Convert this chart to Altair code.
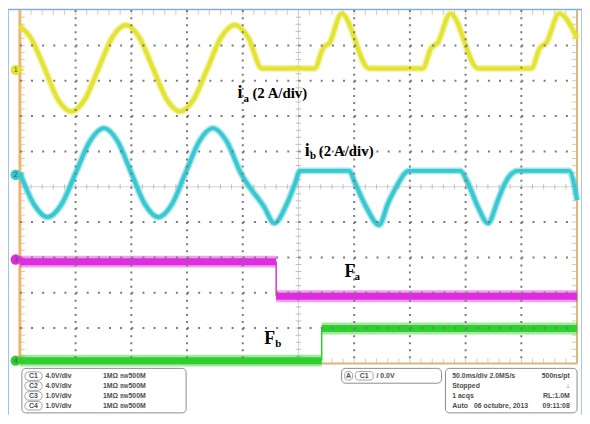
import altair as alt
import pandas as pd
import numpy as np

# ---- screen units: 10 time divisions (50 ms/div) x 10 vertical divisions ----
# channel 1 (ia, yellow)
ia_t = [0.0, 0.20, 0.444, 0.68, 0.924, 1.168, 1.412, 1.656, 1.901, 2.145,
        2.389, 2.633, 2.877, 3.121, 3.366, 3.610, 3.854, 4.10, 4.343,
        5.293, 5.44, 5.56, 5.773, 6.270, 7.229, 7.38, 7.50, 7.726, 8.224,
        9.183, 9.33, 9.45, 9.680, 10.0]
ia_v = [9.55, 9.20, 8.35, 7.48, 7.13, 7.48, 8.35, 9.22, 9.58, 9.22,
        8.35, 7.48, 7.13, 7.48, 8.35, 9.22, 9.58, 9.22, 8.35,
        8.35, 8.92, 9.08, 9.90, 8.35, 8.35, 8.92, 9.08, 9.90, 8.35,
        8.35, 8.92, 9.08, 9.90, 9.20]
# channel 2 (ib, cyan)
ib_t = [0.0, 0.25, 0.497, 0.75, 1.004, 1.257, 1.510, 1.754, 1.998, 2.242,
        2.487, 2.731, 2.975, 3.22, 3.464, 3.71, 3.961, 4.387,
        4.565, 4.796, 4.938, 5.027, 5.915, 6.004, 6.217, 6.448, 6.607, 6.767,
        6.980, 7.904, 8.028, 8.224, 8.401, 8.579, 8.703, 8.934, 9.858, 10.0]
ib_v = [5.40, 4.51, 4.14, 4.51, 5.40, 6.29, 6.66, 6.29, 5.40, 4.51,
        4.14, 4.51, 5.40, 6.29, 6.66, 6.29, 5.40, 4.42,
        3.97, 4.53, 5.09, 5.45, 5.45, 5.15, 4.42, 3.92, 4.53, 5.03,
        5.45, 5.45, 5.15, 4.42, 3.97, 4.62, 5.09, 5.45, 5.45, 4.62]
# channel 3 (Fa, magenta) and channel 4 (Fb, green): levels and switching instants
fa_t = [0.0, 4.600, 10.0]
fa_v = [2.88, 1.90]
fb_t = [0.0, 5.417, 10.0]
fb_v = [0.08, 0.99]

# channel ground markers
mk_ch = ["1", "2", "3", "4"]
mk_y = [8.31, 5.34, 2.94, 0.08]
colors = ["#e3e332", "#38c8d2", "#dc2edc", "#2ecf2e"]

# annotation labels
lab_main = ["i", "i", "F", "F"]
lab_sub = ["a", "b", "a", "b"]
lab_rest = ["(2 A/div)", "(2 A/div)", "", ""]
lab_x = [3.908, 5.115, 5.826, 4.387]
lab_y = [7.50, 5.87, 2.46, 0.56]
lab_sub_dx = [0.105, 0.090, 0.180, 0.195]
lab_rest_dx = [0.265, 0.250, 0.0, 0.0]

# status panel
box_x = [0.036, 5.773, 7.638]
box_x2 = [2.984, 7.567, 10.0]
box_y = [-0.14, -0.14, -0.14]
box_y2 = [-1.40, -0.56, -1.40]
row_y = [-0.36, -0.64, -0.92, -1.20]
ch_names = ["C1", "C2", "C3", "C4"]
ch_scale = ["4.0V/div", "4.0V/div", "1.0V/div", "1.0V/div"]
ch_imp = ["1MΩ", "1MΩ", "1MΩ", "1MΩ"]
ch_bw = ["500M", "500M", "500M", "500M"]
acq_left = ["50.0ms/div 2.0MS/s", "Stopped", "1 acqs", "Auto"]
acq_right = ["500ns/pt", "↓", "RL:1.0M", "09:11:08"]
acq_date = "06 octubre, 2013"
trig_text = "/ 0.0V"

# ------------------------------------------------------------------
xs = alt.Scale(domain=[0, 10], nice=False, zero=False)
ys = alt.Scale(domain=[0, 10], nice=False, zero=False)
X = lambda f="x": alt.X(f"{f}:Q", scale=xs, axis=None)
Y = lambda f="y": alt.Y(f"{f}:Q", scale=ys, axis=None)


def rules(df, **mk):
    enc = dict(x=X("x"), y=Y("y"))
    if "x2" in df:
        enc["x2"] = alt.X2("x2:Q")
    if "y2" in df:
        enc["y2"] = alt.Y2("y2:Q")
    return alt.Chart(df).mark_rule(**mk).encode(**enc)


def texts(df, **mk):
    return alt.Chart(df).mark_text(**mk).encode(x=X("x"), y=Y("y"), text="t:N")


layers = []

# outer window frame (blue)
frame = pd.DataFrame({"x": [-0.213, -0.213, 10.09], "x2": [-0.213, 10.09, 10.09],
                      "y": [10.02, 10.02, 10.02], "y2": [-1.45, 10.02, -1.45]})
layers.append(rules(frame, color="#7fb2e2", strokeWidth=1.5))

# graticule: center lines and minor ticks
steps = np.round(np.arange(0.2, 10.0, 0.2), 2)
layers.append(rules(pd.DataFrame({"x": [0, 5], "x2": [10, 5], "y": [5, 0], "y2": [5, 10]}),
                    color="#d4d4d4", strokeWidth=1))
layers.append(rules(pd.DataFrame({"x": steps, "y": 4.93, "y2": 5.07}), color="#bdbdbd", strokeWidth=1))
layers.append(rules(pd.DataFrame({"y": steps, "x": 4.95, "x2": 5.05}), color="#bdbdbd", strokeWidth=1))
# edge ticks
layers.append(rules(pd.DataFrame({"x": steps, "y": 9.86, "y2": 10}), color="#e0c79e", strokeWidth=1))
layers.append(rules(pd.DataFrame({"x": steps, "y": 0, "y2": 0.14}), color="#e0c79e", strokeWidth=1))
layers.append(rules(pd.DataFrame({"y": steps, "x": 0, "x2": 0.09}), color="#e0c79e", strokeWidth=1))
layers.append(rules(pd.DataFrame({"y": steps, "x": 9.91, "x2": 10}), color="#e0c79e", strokeWidth=1))
# plot edges
layers.append(rules(pd.DataFrame({"x": [0, 10], "x2": [10, 10], "y": [0, 0], "y2": [0, 10]}),
                    color="#d8b77e", strokeWidth=2))
layers.append(rules(pd.DataFrame({"x": [0], "y": [0], "y2": [10]}), color="#efb56e", strokeWidth=3))

# traces: Fa and Fb (noisy thick bands)
for t, v, c in [(fa_t, fa_v, colors[2]), (fb_t, fb_v, colors[3])]:
    seg = pd.DataFrame({"x": t[:-1], "x2": t[1:], "y": v})
    layers.append(rules(seg, color=c, strokeWidth=12, opacity=0.45))
    layers.append(rules(seg, color=c, strokeWidth=7))
    layers.append(rules(pd.DataFrame({"x": [t[1]], "y": [v[0]], "y2": [v[1]]}), color=c, strokeWidth=1.5))

# traces: ia and ib
for t, v, c in [(ia_t, ia_v, colors[0]), (ib_t, ib_v, colors[1])]:
    df = pd.DataFrame({"x": t, "y": v})
    layers.append(alt.Chart(df).mark_line(interpolate="monotone", color=c, strokeWidth=7,
                                          opacity=0.45).encode(x=X(), y=Y()))
    layers.append(alt.Chart(df).mark_line(interpolate="monotone", color=c, strokeWidth=4).encode(x=X(), y=Y()))

# dotted grid
grid_lines = [1, 2, 3, 4, 6, 7, 8, 9]
layers.append(rules(pd.DataFrame({"x": 0.0, "x2": 10.0, "y": grid_lines}),
                    color="#7a7a7a", strokeWidth=2, strokeDash=[2, 9.26]))
layers.append(rules(pd.DataFrame({"x": grid_lines, "y": 10.0, "y2": 0.0}),
                    color="#7a7a7a", strokeWidth=2, strokeDash=[2, 5.14]))

# channel markers
mk = pd.DataFrame({"x": -0.075, "y": mk_y, "t": mk_ch, "c": colors})
cs = alt.Scale(domain=colors, range=colors)
layers.append(alt.Chart(mk.assign(x=0.04)).mark_point(shape="triangle-right", filled=True, size=30, opacity=1)
              .encode(x=X(), y=Y(), color=alt.Color("c:N", scale=cs, legend=None)))
layers.append(alt.Chart(mk).mark_point(shape="circle", filled=True, size=110, opacity=1)
              .encode(x=X(), y=Y(), color=alt.Color("c:N", scale=cs, legend=None)))
layers.append(texts(mk, fontSize=7, font="DejaVu Sans", color="#555555", baseline="middle", align="center"))

# annotation labels
lab = pd.DataFrame({"x": lab_x, "y": lab_y, "t": lab_main})
sub = pd.DataFrame({"x": np.add(lab_x, lab_sub_dx), "y": np.subtract(lab_y, 0.09), "t": lab_sub})
rest = pd.DataFrame({"x": np.add(lab_x, lab_rest_dx), "y": lab_y, "t": lab_rest})
rest = rest[rest.t != ""]
layers.append(texts(lab, font="Liberation Serif", fontWeight="bold", fontSize=18, align="left",
                    baseline="alphabetic", color="#000000"))
layers.append(texts(sub, font="Liberation Serif", fontWeight="bold", fontSize=11, align="left",
                    baseline="alphabetic", color="#000000"))
layers.append(texts(rest, font="Liberation Serif", fontWeight="bold", fontSize=15, align="left",
                    baseline="alphabetic", color="#000000"))

# status panel boxes
boxes = pd.DataFrame({"x": box_x, "x2": box_x2, "y": box_y, "y2": box_y2})
layers.append(alt.Chart(boxes).mark_rect(fill="#ffffff", stroke="#8c8c8c", strokeWidth=1, cornerRadius=4)
              .encode(x=X(), x2="x2:Q", y=Y(), y2="y2:Q"))
badge = pd.DataFrame({"x": 0.09, "x2": 0.40, "y": np.add(row_y, 0.12), "y2": np.subtract(row_y, 0.12)})
layers.append(alt.Chart(badge).mark_rect(fill="#ffffff", stroke="#8c8c8c", strokeWidth=0.8, cornerRadius=4)
              .encode(x=X(), x2="x2:Q", y=Y(), y2="y2:Q"))
tbadge = pd.DataFrame({"x": [5.83, 6.02], "x2": [5.97, 6.34], "y": [-0.23, -0.23], "y2": [-0.47, -0.47]})
layers.append(alt.Chart(tbadge).mark_rect(fill="#ffffff", stroke="#8c8c8c", strokeWidth=0.8, cornerRadius=3)
              .encode(x=X(), x2="x2:Q", y=Y(), y2="y2:Q"))

small = dict(font="Liberation Sans", fontSize=7, fontWeight="bold", baseline="middle", color="#4d4d4d")
layers.append(texts(pd.DataFrame({"x": 0.245, "y": row_y, "t": ch_names}), align="center", **small))
layers.append(texts(pd.DataFrame({"x": 0.46, "y": row_y, "t": ch_scale}), align="left", **small))
layers.append(texts(pd.DataFrame({"x": 1.49, "y": row_y, "t": ch_imp}), align="left", **small))
layers.append(texts(pd.DataFrame({"x": 1.80, "y": row_y, "t": ["BW"] * 4}), align="left",
                    **{**small, "fontSize": 5}))
layers.append(texts(pd.DataFrame({"x": 1.95, "y": row_y, "t": ch_bw}), align="left", **small))
layers.append(texts(pd.DataFrame({"x": [5.90, 6.18], "y": -0.35, "t": ["A", "C1"]}), align="center", **small))
layers.append(texts(pd.DataFrame({"x": [6.40], "y": -0.35, "t": [trig_text]}), align="left", **small))
layers.append(texts(pd.DataFrame({"x": 7.76, "y": row_y, "t": acq_left}), align="left", **small))
layers.append(texts(pd.DataFrame({"x": 9.87, "y": row_y, "t": acq_right}), align="right", **small))
layers.append(texts(pd.DataFrame({"x": [8.15], "y": [row_y[3]], "t": [acq_date]}), align="left", **small))

chart = alt.layer(*layers).properties(
    width=563, height=357,
    padding={"left": 12, "top": 0, "right": 5, "bottom": 51},
    autosize=alt.AutoSizeParams(type="none"),
    background="#ffffff",
).configure_view(strokeWidth=0)

chart.save("out.html", embed_options={"renderer": "svg", "actions": False})
